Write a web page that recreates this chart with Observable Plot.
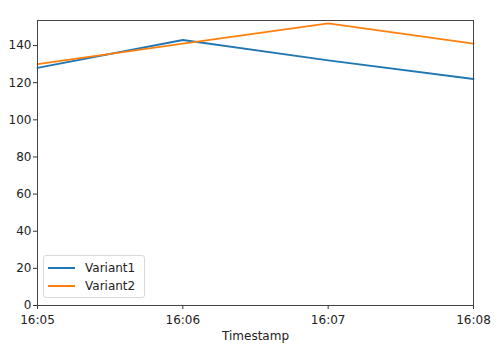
<!DOCTYPE html>
<html>
<head>
<meta charset="utf-8">
<script src="https://cdn.jsdelivr.net/npm/d3@7"></script>
<script src="https://cdn.jsdelivr.net/npm/@observablehq/plot@0.6"></script>
<style>
  html, body { margin: 0; padding: 0; background: #fff; }
  #wrap { position: relative; width: 500px; height: 355px; font-family: "DejaVu Sans", sans-serif; }
  #legend { position: absolute; left: 43px; top: 255px; width: 102px; height: 43px; border: 1px solid #d9d9d9; border-radius: 3px; background: rgba(255,255,255,0.8); box-sizing: border-box; font-size: 12px; color: #222; }
  .item { position: absolute; left: 4px; height: 15px; display: flex; align-items: center; }
  .swatch { width: 27px; height: 2px; margin-right: 10px; }
</style>
</head>
<body>
<div id="wrap"></div>
<script>
const timestamps = ["16:05", "16:06", "16:07", "16:08"];
const variant1 = [128, 143, 132, 122];
const variant2 = [130, 141, 152, 141];
const seriesNames = ["Variant1", "Variant2"];
const seriesColors = ["#1f77b4", "#ff7f0e"];
const yTicks = [0, 20, 40, 60, 80, 100, 120, 140];

const toDate = s => new Date(Date.UTC(2020, 0, 1, +s.split(":")[0], +s.split(":")[1]));
const rows = [];
[variant1, variant2].forEach((vals, i) => {
  vals.forEach((v, j) => rows.push({t: toDate(timestamps[j]), v, s: seriesNames[i]}));
});
const allVals = variant1.concat(variant2);
const lo = d3.min(allVals), hi = d3.max(allVals);
const yMax = hi + 0.05 * (hi - lo);

const chart = Plot.plot({
  width: 500,
  height: 355,
  marginLeft: 37,
  marginRight: 27,
  marginTop: 20,
  marginBottom: 50,
  style: {fontFamily: "DejaVu Sans, sans-serif", fontSize: "12px", color: "#222", background: "#fff"},
  x: {type: "utc", domain: [toDate(timestamps[0]), toDate(timestamps[timestamps.length - 1])]},
  y: {domain: [0, yMax]},
  color: {domain: seriesNames, range: seriesColors},
  marks: [
    Plot.axisY({ticks: yTicks, tickSize: 4, tickPadding: 2, label: null, stroke: "#333", fontSize: 12}),
    Plot.axisX({ticks: timestamps.map(toDate), tickFormat: d3.utcFormat("%H:%M"), tickSize: 4, tickPadding: 6, label: null, stroke: "#333", fontSize: 12}),
    Plot.text(["Timestamp"], {frameAnchor: "bottom", dy: 34, fontSize: 12, fill: "#222"}),
    Plot.line(rows, {x: "t", y: "v", z: "s", stroke: "s", strokeWidth: 1.8}),
    Plot.frame({stroke: "#444", strokeWidth: 1})
  ]
});

const wrap = document.getElementById("wrap");
wrap.appendChild(chart);
const legend = document.createElement("div");
legend.id = "legend";
seriesNames.forEach((name, i) => {
  const item = document.createElement("div");
  item.className = "item";
  item.style.top = (4 + i * 18) + "px";
  const sw = document.createElement("div");
  sw.className = "swatch";
  sw.style.background = seriesColors[i];
  const label = document.createElement("span");
  label.textContent = name;
  item.appendChild(sw);
  item.appendChild(label);
  legend.appendChild(item);
});
wrap.appendChild(legend);
</script>
</body>
</html>
